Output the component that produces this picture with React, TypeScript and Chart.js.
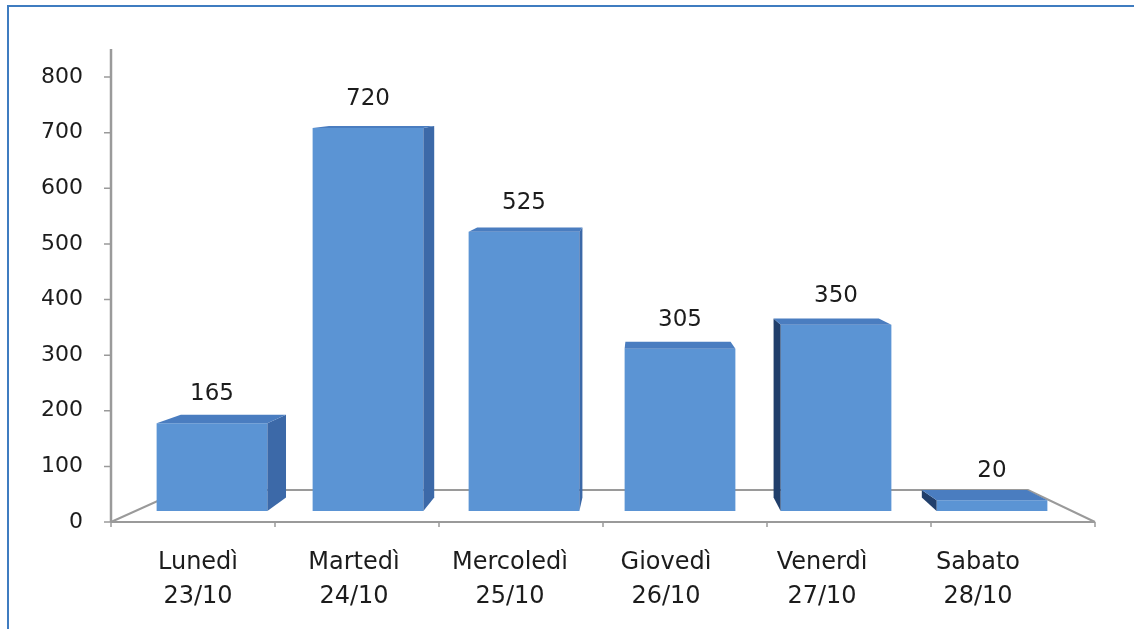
import React, { useEffect, useRef } from "react";
import { Chart, registerables } from "chart.js";

Chart.register(...registerables);

const days = ["Lunedì", "Martedì", "Mercoledì", "Giovedì", "Venerdì", "Sabato"];
const dates = ["23/10", "24/10", "25/10", "26/10", "27/10", "28/10"];
const values = [165, 720, 525, 305, 350, 20];
const yMin = 0;
const yMax = 800;
const yStep = 100;

const FONT = "'DejaVu Sans', sans-serif";
const FRONT = "#5b94d4";
const TOP = "#4a7dc0";
const RIGHT_SIDE = "#3c69a8";
const LEFT_SIDE = "#213f6b";
const LINE = "#9a9a9a";
const TEXT = "#1c1c1c";

// perspective helpers
const VPX = 640;
const KX = 0.05;
const VPY = 35;
const KY = 0.022;

const persp3d = {
  id: "persp3d",
  beforeDatasetsDraw(chart: any) {
    const { ctx, chartArea } = chart;
    const axisX = chartArea.left - 23;
    const bottom = chartArea.bottom;
    const frontRight = chartArea.right + 25;
    const backY = bottom - 32;
    ctx.save();
    ctx.strokeStyle = LINE;
    ctx.lineWidth = 2;
    ctx.beginPath();
    ctx.moveTo(axisX, bottom);
    ctx.lineTo(frontRight, bottom);
    ctx.moveTo(axisX, bottom);
    ctx.lineTo(axisX + 71, backY);
    ctx.lineTo(frontRight - 67, backY);
    ctx.lineTo(frontRight, bottom);
    ctx.stroke();
    ctx.lineWidth = 1.5;
    ctx.beginPath();
    for (let i = 0; i <= days.length; i++) {
      const x = axisX + ((frontRight - axisX) * i) / days.length;
      ctx.moveTo(x, bottom);
      ctx.lineTo(x, bottom + 5);
    }
    ctx.stroke();
    const ys = chart.scales.y;
    ctx.lineWidth = 2.5;
    ctx.beginPath();
    ctx.moveTo(axisX, chartArea.top - 28);
    ctx.lineTo(axisX, bottom);
    ctx.stroke();
    ctx.lineWidth = 1.5;
    ctx.beginPath();
    for (let v = yMin; v <= yMax; v += yStep) {
      const y = ys.getPixelForValue(v);
      ctx.moveTo(axisX - 7, y);
      ctx.lineTo(axisX, y);
    }
    ctx.stroke();
    ctx.restore();
  },
  afterDatasetsDraw(chart: any) {
    const { ctx } = chart;
    const meta = chart.getDatasetMeta(0);
    ctx.save();
    meta.data.forEach((el: any, i: number) => {
      const { x, y, base, width } = el.getProps(["x", "y", "base", "width"], true);
      const l = x - width / 2;
      const r = x + width / 2;
      const dxL = (VPX - l) * KX;
      const dxR = (VPX - r) * KX;
      const dyT = (VPY - y) * KY;
      const dyB = (VPY - base) * KY - 3;
      if (dxR > 0) {
        ctx.fillStyle = RIGHT_SIDE;
        ctx.beginPath();
        ctx.moveTo(r, y);
        ctx.lineTo(r, base);
        ctx.lineTo(r + dxR, base + dyB);
        ctx.lineTo(r + dxR, y + dyT);
        ctx.closePath();
        ctx.fill();
      }
      if (dxL < 0) {
        ctx.fillStyle = LEFT_SIDE;
        ctx.beginPath();
        ctx.moveTo(l, y);
        ctx.lineTo(l, base);
        ctx.lineTo(l + dxL, base + dyB);
        ctx.lineTo(l + dxL, y + dyT);
        ctx.closePath();
        ctx.fill();
      }
      if (dyT < 0) {
        ctx.fillStyle = TOP;
        ctx.beginPath();
        ctx.moveTo(l, y);
        ctx.lineTo(r, y);
        ctx.lineTo(r + dxR, y + dyT);
        ctx.lineTo(l + dxL, y + dyT);
        ctx.closePath();
        ctx.fill();
      }
      ctx.fillStyle = TEXT;
      ctx.font = `23px ${FONT}`;
      ctx.textAlign = "center";
      ctx.textBaseline = "middle";
      ctx.fillText(String(values[i]), x, y - 29);
    });
    ctx.restore();
  },
};

export default function App() {
  const ref = useRef<HTMLCanvasElement | null>(null);
  useEffect(() => {
    if (!ref.current) return;
    const chart = new Chart(ref.current, {
      type: "bar",
      data: {
        labels: days.map((d, i) => [d, dates[i]]),
        datasets: [
          {
            data: values,
            backgroundColor: FRONT,
            borderWidth: 0,
            yAxisID: "y2",
            barPercentage: 0.71,
            categoryPercentage: 1,
          },
        ],
      },
      options: {
        animation: false,
        responsive: true,
        maintainAspectRatio: false,
        layout: { padding: { left: 0, right: 64, top: 77, bottom: 0 } },
        plugins: { legend: { display: false }, tooltip: { enabled: false } },
        scales: {
          x: {
            grid: { display: false, drawTicks: false },
            border: { display: false },
            ticks: {
              color: TEXT,
              font: { family: FONT, size: 24, lineHeight: 1.4 },
              padding: 24,
              labelOffset: -14,
              maxRotation: 0,
              autoSkip: false,
            },
            afterFit: (s: any) => {
              s.height = 107;
            },
          },
          y: {
            position: "left",
            min: yMin,
            max: yMax,
            grid: { display: false, drawTicks: false },
            border: { display: false },
            ticks: {
              stepSize: yStep,
              color: TEXT,
              font: { family: FONT, size: 22 },
              padding: 51,
            },
            afterFit: (s: any) => {
              s.width = 134;
            },
          },
          y2: {
            display: false,
            min: -20.7,
            max: 815.9,
          },
        },
      },
      plugins: [persp3d],
    });
    return () => chart.destroy();
  }, []);
  return (
    <div
      style={{
        position: "fixed",
        left: 0,
        top: 0,
        width: 1134,
        height: 629,
        background: "#fff",
        overflow: "hidden",
      }}
    >
      <div
        style={{
          position: "absolute",
          left: 7,
          top: 5,
          width: 2000,
          height: 2000,
          borderTop: "2px solid #3f7cc0",
          borderLeft: "2px solid #3f7cc0",
        }}
      />
      <canvas ref={ref} style={{ position: "absolute", left: 0, top: 0, width: 1134, height: 629 }} />
    </div>
  );
}
